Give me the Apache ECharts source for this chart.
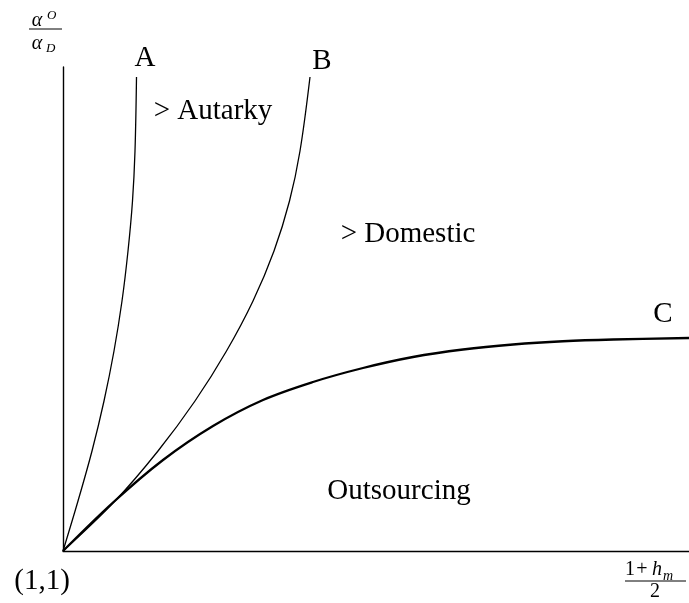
<!DOCTYPE html>
<html>
<head>
<meta charset="utf-8">
<script src="https://cdn.jsdelivr.net/npm/echarts@6/dist/echarts.min.js"></script>
<style>
html,body{margin:0;padding:0;background:#fff;}
#chart{width:689px;height:603px;}
</style>
</head>
<body>
<div id="chart"></div>
<script>
// Curve data (x, y) in chart units; origin corresponds to (1,1)
const curveA = [[0,0],[15,50],[29,100],[41,150],[51,200],[59,250],[65,300],[69.5,350],[72,400],[73.5,474]];
const curveB = [[0,0],[52,50],[95,100],[132,150],[163.5,200],[190,250],[211,300],[226.5,350],[237,400],[247,474]];
const curveC = [[0,0],[50,48.5],[100,91],[150,125],[200,151],[250,169],[300,183],[350,194],[400,201.5],[450,206.5],[500,209.75],[550,211.5],[626,213]];
const curveNames = ['A','B','C'];
const regionLabels = ['> Autarky','> Domestic','Outsourcing'];
const originLabel = '(1,1)';
const xRange = [0, 626];
const yRange = [0, 484];

const chart = echarts.init(document.getElementById('chart'));
const serif = '"Liberation Serif", "DejaVu Serif", serif';
const big = 29;

function txt(text, x, y, size, opts) {
  return {
    type: 'text',
    x: x, y: y,
    style: {
      text: text,
      font: (opts && opts.italic ? 'italic ' : '') + size + 'px ' + serif,
      fill: '#000',
      align: (opts && opts.align) || 'center',
      verticalAlign: 'middle'
    }
  };
}
function bar(x1, x2, y) {
  return { type: 'line', shape: {x1: x1, y1: y, x2: x2, y2: y}, style: {stroke: '#000', lineWidth: 1} };
}

const option = {
  backgroundColor: '#fff',
  animation: false,
  grid: { left: 63, right: 0, top: 67, bottom: 52 },
  xAxis: {
    type: 'value', min: xRange[0], max: xRange[1],
    axisLine: { show: true, onZero: false, lineStyle: { color: '#000', width: 1.4 } },
    axisTick: { show: false }, axisLabel: { show: false }, splitLine: { show: false }
  },
  yAxis: {
    type: 'value', min: yRange[0], max: yRange[1],
    axisLine: { show: true, onZero: false, lineStyle: { color: '#000', width: 1.4 } },
    axisTick: { show: false }, axisLabel: { show: false }, splitLine: { show: false }
  },
  series: [
    { name: curveNames[0], type: 'line', data: curveA, smooth: 0.35, showSymbol: false,
      lineStyle: { color: '#000', width: 1.3 } },
    { name: curveNames[1], type: 'line', data: curveB, smooth: 0.35, showSymbol: false,
      lineStyle: { color: '#000', width: 1.3 } },
    { name: curveNames[2], type: 'line', data: curveC, smooth: 0.35, showSymbol: false,
      lineStyle: { color: '#000', width: 2.3 } }
  ],
  graphic: [
    txt(curveNames[0], 145, 58, big),
    txt(curveNames[1], 322, 61, big),
    txt(curveNames[2], 663, 314, big),
    txt(regionLabels[0], 213, 111, big),
    txt(regionLabels[1], 408, 234, big),
    txt(regionLabels[2], 399, 491, big),
    txt(originLabel, 42, 581, big),
    // y-axis label: alpha^O / alpha_D
    txt('\u03b1', 37, 21, 20, {italic: true}),
    txt('O', 47, 16, 13, {italic: true, align: 'left'}),
    bar(29, 62, 29),
    txt('\u03b1', 37, 44, 20, {italic: true}),
    txt('D', 46, 49, 13, {italic: true, align: 'left'}),
    // x-axis label: (1+h_m)/2
    txt('1', 625, 570, 20, {align: 'left'}),
    txt('+', 642, 570, 20),
    txt('h', 652, 570, 20, {italic: true, align: 'left'}),
    txt('m', 663, 576, 14, {italic: true, align: 'left'}),
    bar(625, 686, 581),
    txt('2', 655, 592, 20)
  ]
};
chart.setOption(option);
</script>
</body>
</html>
